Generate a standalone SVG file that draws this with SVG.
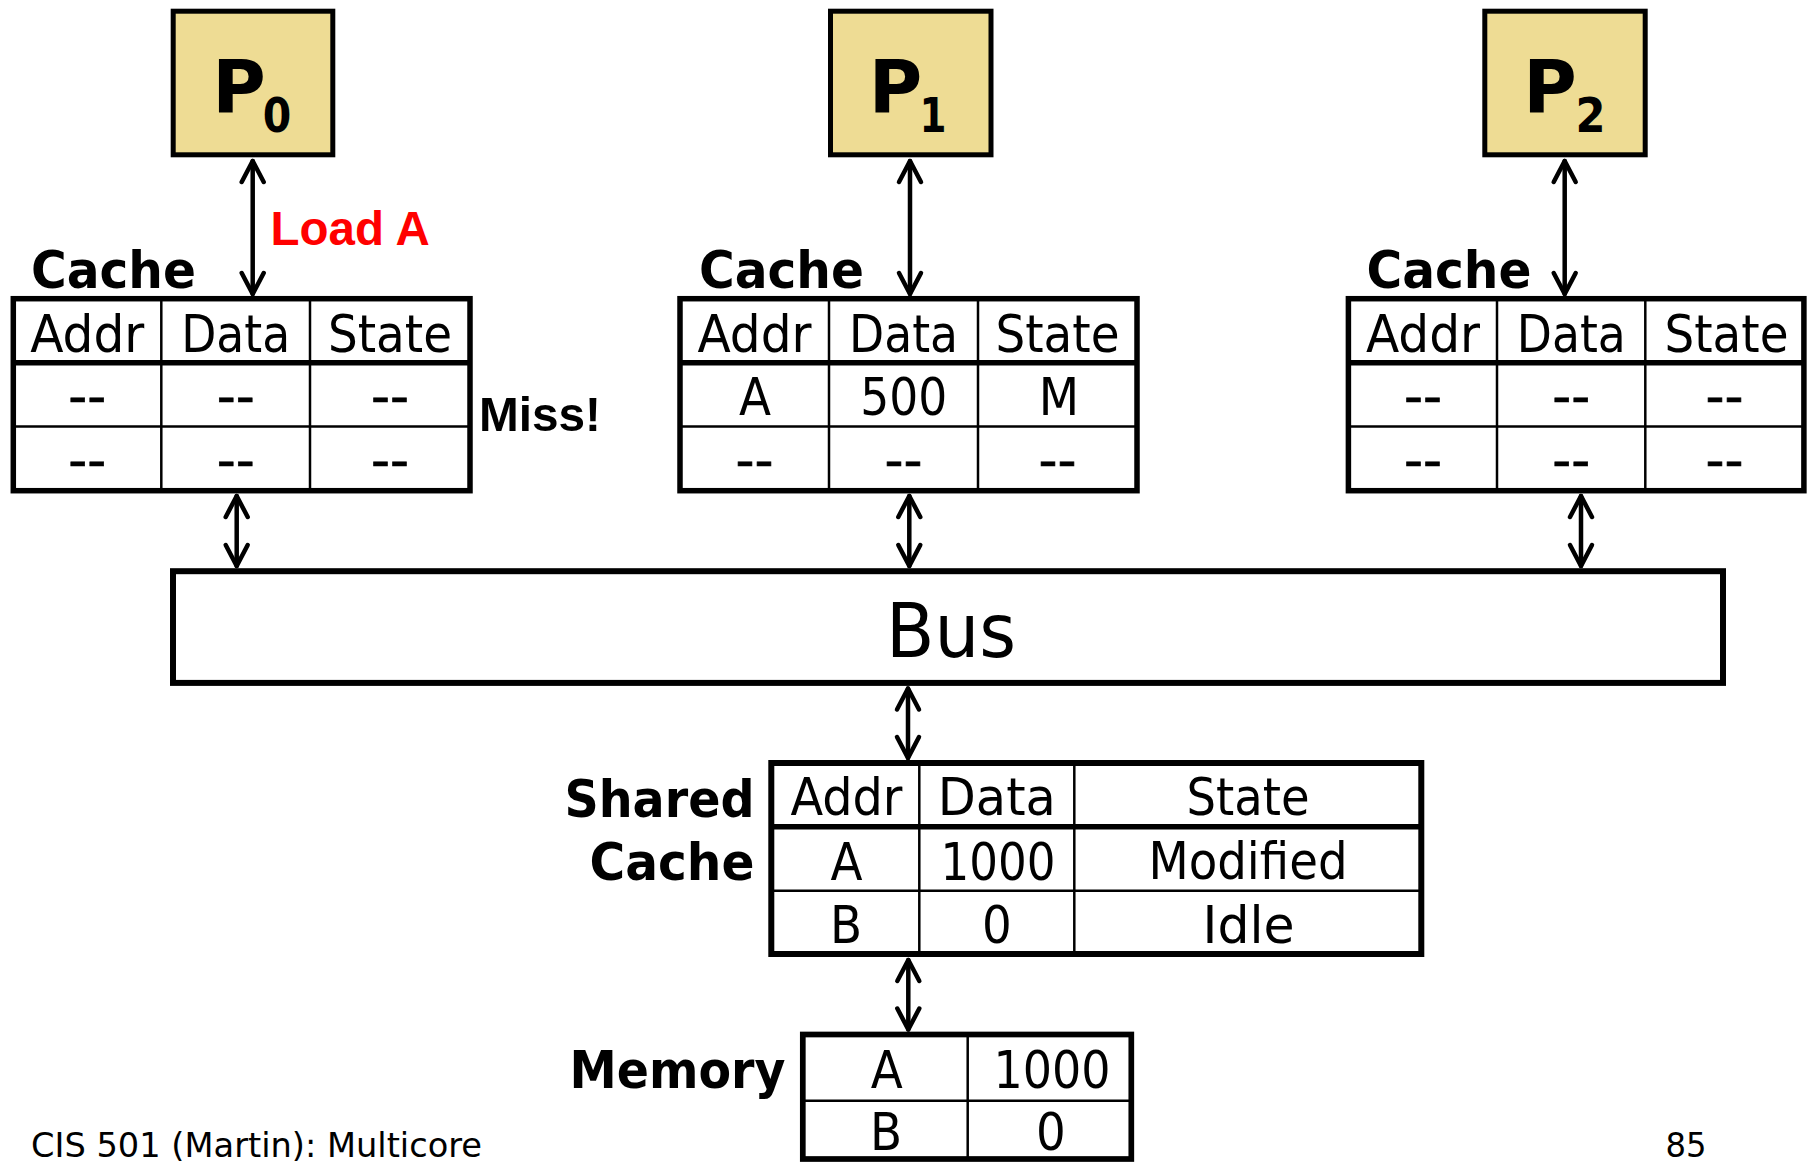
<svg xmlns="http://www.w3.org/2000/svg" width="1807" height="1162" viewBox="0 0 1807 1162">
<style>
.bg{fill:#fff}
.proc{fill:#EEDC94;stroke:#000;stroke-width:5}
.frame{fill:#fff;stroke:#000;stroke-width:5.5}
.thick{stroke:#000;stroke-width:5.5}
.thin{stroke:#000;stroke-width:2.5}
.t{font-family:"DejaVu Sans Condensed","DejaVu Sans",sans-serif;font-size:52px;fill:#000;text-anchor:middle}
.d{font-family:"DejaVu Sans Condensed","DejaVu Sans",sans-serif;font-size:52px;fill:#000;text-anchor:middle;stroke:#000;stroke-width:0.6}
.big{font-size:74px}
.b{font-family:"DejaVu Sans","Liberation Sans",sans-serif;font-weight:bold;fill:#000}
.pl{font-size:73px;text-anchor:middle}
.ps{font-size:48px;text-anchor:middle}
.lbl{font-size:52px}
.a{font-family:"Liberation Sans",Arial,sans-serif;font-weight:bold}
.f{font-family:"DejaVu Sans Condensed","DejaVu Sans",sans-serif;font-size:34px;fill:#000}
.conn{stroke:#000;stroke-width:4.5;fill:none;stroke-linecap:round;marker-start:url(#ah);marker-end:url(#ah)}
</style>
<defs>
<marker id="ah" markerUnits="userSpaceOnUse" orient="auto-start-reverse" overflow="visible" markerWidth="1" markerHeight="1" refX="0" refY="0">
<path d="M-21,-11 L0,0 L-21,11" fill="none" stroke="#000" stroke-width="4.5" stroke-linecap="round" stroke-linejoin="round"/>
</marker>
</defs>
<rect class="bg" x="0" y="0" width="1807" height="1162"/>

<g id="connectors">
<line class="conn" x1="252.7" y1="161" x2="252.7" y2="294"/>
<line class="conn" x1="910" y1="161" x2="910" y2="294"/>
<line class="conn" x1="1564.7" y1="161" x2="1564.7" y2="294"/>
<line class="conn" x1="236.7" y1="496" x2="236.7" y2="566"/>
<line class="conn" x1="909.3" y1="496" x2="909.3" y2="566"/>
<line class="conn" x1="1581" y1="496" x2="1581" y2="566"/>
<line class="conn" x1="908" y1="688.5" x2="908" y2="758"/>
<line class="conn" x1="908.3" y1="960" x2="908.3" y2="1029.5"/>
</g>

<g id="p0">
<rect class="proc" x="173.2" y="11.2" width="159.6" height="143.6"/>
<text class="b pl" x="239" y="113.3">P</text>
<text class="b ps" x="277" y="132" textLength="28.5" lengthAdjust="spacingAndGlyphs">0</text>
</g>
<g id="p1">
<rect class="proc" x="830.5" y="11.2" width="160.5" height="143.6"/>
<text class="b pl" x="895.6" y="113.3">P</text>
<text class="b ps" x="933" y="132" textLength="27" lengthAdjust="spacingAndGlyphs">1</text>
</g>
<g id="p2">
<rect class="proc" x="1484.8" y="11.2" width="160.4" height="143.6"/>
<text class="b pl" x="1550" y="113.3">P</text>
<text class="b ps" x="1590.5" y="132" textLength="30" lengthAdjust="spacingAndGlyphs">2</text>
</g>

<g id="load-label">
<text class="a" x="270.6" y="245" font-size="47.5" fill="#FF0000">Load A</text>
</g>
<g id="miss-label">
<text class="a" x="479" y="431" font-size="49" fill="#000" textLength="122" lengthAdjust="spacingAndGlyphs">Miss!</text>
</g>

<g id="cache0">
<text class="b lbl" x="31" y="288.3" textLength="165" lengthAdjust="spacingAndGlyphs">Cache</text>
<rect class="frame" x="13.3" y="298.7" width="456.7" height="192"/>
<line class="thick" x1="13.3" y1="362.7" x2="470" y2="362.7"/>
<line class="thin" x1="13.3" y1="426.5" x2="470" y2="426.5"/>
<line class="thin" x1="161.3" y1="298.7" x2="161.3" y2="490.7"/>
<line class="thin" x1="310" y1="298.7" x2="310" y2="490.7"/>
<text class="t" x="87.3" y="351.7" textLength="114" lengthAdjust="spacingAndGlyphs">Addr</text>
<text class="t" x="235.7" y="351.7" textLength="109" lengthAdjust="spacingAndGlyphs">Data</text>
<text class="t" x="390" y="351.7" textLength="124" lengthAdjust="spacingAndGlyphs">State</text>
<text class="d" x="87.3" y="414" textLength="38" lengthAdjust="spacingAndGlyphs">--</text>
<text class="d" x="235.7" y="414" textLength="38" lengthAdjust="spacingAndGlyphs">--</text>
<text class="d" x="390" y="414" textLength="38" lengthAdjust="spacingAndGlyphs">--</text>
<text class="d" x="87.3" y="477.7" textLength="38" lengthAdjust="spacingAndGlyphs">--</text>
<text class="d" x="235.7" y="477.7" textLength="38" lengthAdjust="spacingAndGlyphs">--</text>
<text class="d" x="390" y="477.7" textLength="38" lengthAdjust="spacingAndGlyphs">--</text>
</g>

<g id="cache1">
<text class="b lbl" x="699" y="288.3" textLength="165" lengthAdjust="spacingAndGlyphs">Cache</text>
<rect class="frame" x="680" y="298.7" width="457" height="192"/>
<line class="thick" x1="680" y1="362.7" x2="1137" y2="362.7"/>
<line class="thin" x1="680" y1="426.5" x2="1137" y2="426.5"/>
<line class="thin" x1="829" y1="298.7" x2="829" y2="490.7"/>
<line class="thin" x1="978" y1="298.7" x2="978" y2="490.7"/>
<text class="t" x="754.5" y="351.7" textLength="114" lengthAdjust="spacingAndGlyphs">Addr</text>
<text class="t" x="903.5" y="351.7" textLength="109" lengthAdjust="spacingAndGlyphs">Data</text>
<text class="t" x="1057.5" y="351.7" textLength="124" lengthAdjust="spacingAndGlyphs">State</text>
<text class="t" x="755" y="415">A</text>
<text class="t" x="903.8" y="415" textLength="87" lengthAdjust="spacingAndGlyphs">500</text>
<text class="t" x="1059" y="415">M</text>
<text class="d" x="754.5" y="477.7" textLength="38" lengthAdjust="spacingAndGlyphs">--</text>
<text class="d" x="903.5" y="477.7" textLength="38" lengthAdjust="spacingAndGlyphs">--</text>
<text class="d" x="1057.5" y="477.7" textLength="38" lengthAdjust="spacingAndGlyphs">--</text>
</g>

<g id="cache2">
<text class="b lbl" x="1366.5" y="288.3" textLength="165" lengthAdjust="spacingAndGlyphs">Cache</text>
<rect class="frame" x="1348.4" y="298.7" width="455.5" height="192"/>
<line class="thick" x1="1348.4" y1="362.7" x2="1803.9" y2="362.7"/>
<line class="thin" x1="1348.4" y1="426.5" x2="1803.9" y2="426.5"/>
<line class="thin" x1="1497" y1="298.7" x2="1497" y2="490.7"/>
<line class="thin" x1="1645.3" y1="298.7" x2="1645.3" y2="490.7"/>
<text class="t" x="1423" y="351.7" textLength="114" lengthAdjust="spacingAndGlyphs">Addr</text>
<text class="t" x="1571.3" y="351.7" textLength="109" lengthAdjust="spacingAndGlyphs">Data</text>
<text class="t" x="1726.5" y="351.7" textLength="124" lengthAdjust="spacingAndGlyphs">State</text>
<text class="d" x="1423" y="414" textLength="38" lengthAdjust="spacingAndGlyphs">--</text>
<text class="d" x="1571.3" y="414" textLength="38" lengthAdjust="spacingAndGlyphs">--</text>
<text class="d" x="1724.6" y="414" textLength="38" lengthAdjust="spacingAndGlyphs">--</text>
<text class="d" x="1423" y="477.7" textLength="38" lengthAdjust="spacingAndGlyphs">--</text>
<text class="d" x="1571.3" y="477.7" textLength="38" lengthAdjust="spacingAndGlyphs">--</text>
<text class="d" x="1724.6" y="477.7" textLength="38" lengthAdjust="spacingAndGlyphs">--</text>
</g>

<g id="bus">
<rect class="frame" x="173" y="571.2" width="1550" height="111.7" style="stroke-width:6"/>
<text class="t big" x="951" y="656.7" textLength="130" lengthAdjust="spacingAndGlyphs">Bus</text>
</g>

<g id="shared-cache">
<text class="b lbl" x="564.5" y="816.7" textLength="190" lengthAdjust="spacingAndGlyphs">Shared</text>
<text class="b lbl" x="589.5" y="880" textLength="165" lengthAdjust="spacingAndGlyphs">Cache</text>
<rect class="frame" x="771.3" y="763" width="650" height="191" style="stroke-width:6"/>
<line class="thick" x1="771.3" y1="826.7" x2="1421.3" y2="826.7"/>
<line class="thin" x1="771.3" y1="890.7" x2="1421.3" y2="890.7"/>
<line class="thin" x1="919.3" y1="763" x2="919.3" y2="954"/>
<line class="thin" x1="1074.3" y1="763" x2="1074.3" y2="954"/>
<text class="t" x="846.5" y="815" textLength="112" lengthAdjust="spacingAndGlyphs">Addr</text>
<text class="t" x="996.8" y="815" textLength="118" lengthAdjust="spacingAndGlyphs">Data</text>
<text class="t" x="1248" y="815" textLength="123" lengthAdjust="spacingAndGlyphs">State</text>
<text class="t" x="846.5" y="880">A</text>
<text class="t" x="998" y="880" textLength="115" lengthAdjust="spacingAndGlyphs">1000</text>
<text class="t" x="1248" y="879.3" textLength="199" lengthAdjust="spacingAndGlyphs">Modified</text>
<text class="t" x="846" y="943.3">B</text>
<text class="t" x="996.8" y="943.3">0</text>
<text class="t" x="1248.6" y="943.3" textLength="92" lengthAdjust="spacingAndGlyphs">Idle</text>
</g>

<g id="memory">
<text class="b lbl" x="569.5" y="1088.3" textLength="216" lengthAdjust="spacingAndGlyphs">Memory</text>
<rect class="frame" x="802.8" y="1034.5" width="328.5" height="124.5" style="stroke-width:5.7"/>
<line class="thin" x1="802.8" y1="1100.7" x2="1131.3" y2="1100.7"/>
<line class="thin" x1="967.7" y1="1034.5" x2="967.7" y2="1159"/>
<text class="t" x="886.7" y="1088.3">A</text>
<text class="t" x="1052" y="1088.3" textLength="117" lengthAdjust="spacingAndGlyphs">1000</text>
<text class="t" x="886" y="1150">B</text>
<text class="t" x="1051" y="1150">0</text>
</g>

<g id="footer">
<text class="f" x="31" y="1157" textLength="451" lengthAdjust="spacingAndGlyphs">CIS 501 (Martin): Multicore</text>
<text class="f" x="1665.5" y="1157" textLength="41" lengthAdjust="spacingAndGlyphs">85</text>
</g>
</svg>
